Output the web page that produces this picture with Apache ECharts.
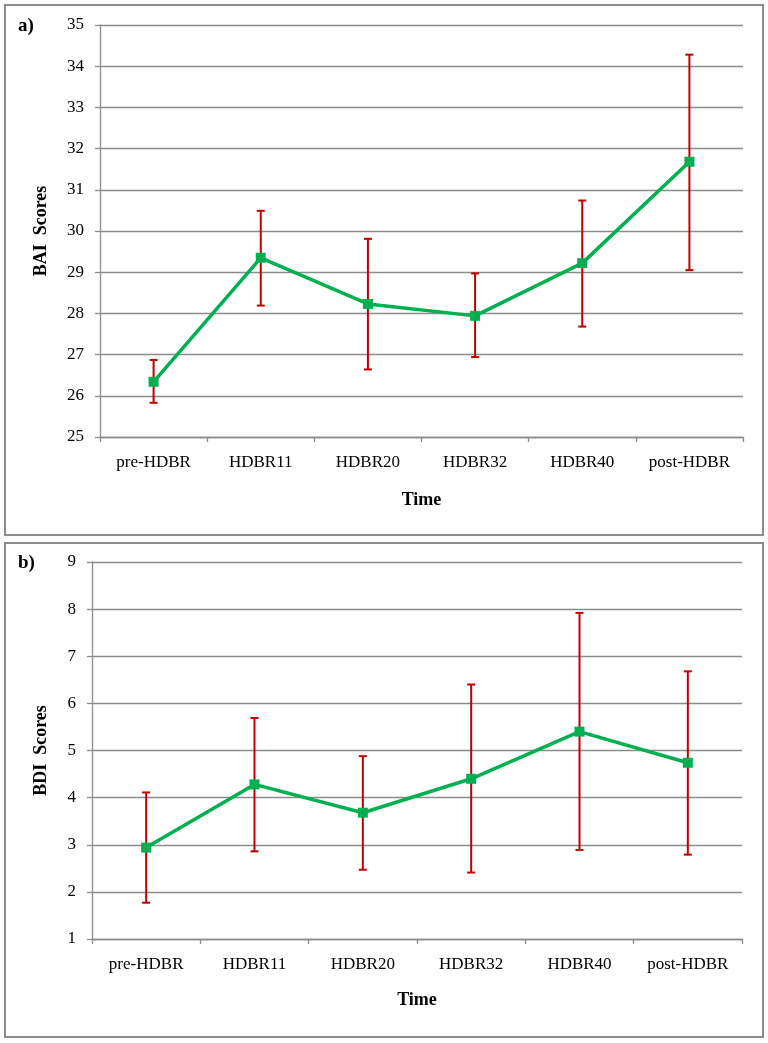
<!DOCTYPE html>
<html>
<head>
<meta charset="utf-8">
<script src="https://cdn.jsdelivr.net/npm/echarts@6/dist/echarts.min.js"></script>
<style>html,body{margin:0;padding:0;background:#fff}#c{width:768px;height:1043px}</style>
</head>
<body>
<div id="c"></div>
<script>
const categories = ['pre-HDBR', 'HDBR11', 'HDBR20', 'HDBR32', 'HDBR40', 'post-HDBR'];
const baiMean = [26.34, 29.35, 28.23, 27.94, 29.22, 31.68];
const baiLow  = [25.83, 28.19, 26.64, 26.94, 27.68, 29.05];
const baiHigh = [26.87, 30.49, 29.81, 28.97, 30.74, 34.28];
const bdiMean = [2.94, 4.28, 3.68, 4.40, 5.40, 4.74];
const bdiLow  = [1.77, 2.86, 2.47, 2.41, 2.89, 2.79];
const bdiHigh = [4.11, 5.69, 4.88, 6.40, 7.92, 6.68];

const FONT = "'Liberation Serif', 'Times New Roman', serif";
const GRAY = '#8c8c8c';
const GREEN = '#00b050';
const RED = '#c00000';

function errData(lo, hi) { return categories.map((c, i) => [i, lo[i], hi[i]]); }

function errRender(params, api) {
  const x = api.value(0);
  const p1 = api.coord([x, api.value(1)]);
  const p2 = api.coord([x, api.value(2)]);
  const w = 4;
  const st = { stroke: RED, lineWidth: 2 };
  return {
    type: 'group',
    children: [
      { type: 'line', shape: { x1: p1[0], y1: p1[1], x2: p2[0], y2: p2[1] }, style: st },
      { type: 'line', shape: { x1: p1[0] - w, y1: p1[1], x2: p1[0] + w, y2: p1[1] }, style: st },
      { type: 'line', shape: { x1: p2[0] - w, y1: p2[1], x2: p2[0] + w, y2: p2[1] }, style: st }
    ]
  };
}

function xAxisCfg(gi, gap) {
  return {
    type: 'category', gridIndex: gi, data: categories, boundaryGap: true,
    name: 'Time', nameLocation: 'middle', nameGap: gap,
    nameTextStyle: { fontFamily: FONT, fontWeight: 'bold', fontSize: 18, color: '#000' },
    axisLine: { show: true, lineStyle: { color: GRAY, width: 1.3 } },
    axisTick: { show: true, length: 5, interval: 0, lineStyle: { color: GRAY, width: 1.3 } },
    axisLabel: { fontFamily: FONT, fontSize: 17, color: '#000', margin: 17, interval: 0 },
    splitLine: { show: false }
  };
}
function yAxisCfg(gi, name, min, max, gap) {
  return {
    type: 'value', gridIndex: gi, min: min, max: max, interval: 1,
    name: name, nameLocation: 'middle', nameGap: gap, nameRotate: 90,
    nameTextStyle: { fontFamily: FONT, fontWeight: 'bold', fontSize: 18, color: '#000' },
    axisLine: { show: true, lineStyle: { color: GRAY, width: 1.3 } },
    axisTick: { show: true, length: 5, lineStyle: { color: GRAY, width: 1.3 } },
    axisLabel: { fontFamily: FONT, fontSize: 17, color: '#000', margin: 16 },
    splitLine: { show: true, lineStyle: { color: GRAY, width: 1.3 } }
  };
}

const chart = echarts.init(document.getElementById('c'), null, { renderer: 'canvas' });
chart.setOption({
  animation: false,
  backgroundColor: '#fff',
  grid: [
    { left: 100, top: 25, right: 25, height: 412 },
    { left: 92, top: 562, right: 26, height: 377 }
  ],
  xAxis: [xAxisCfg(0, 54), xAxisCfg(1, 52)],
  yAxis: [yAxisCfg(0, 'BAI  Scores', 25, 35, 50), yAxisCfg(1, 'BDI  Scores', 1, 9, 42)],
  graphic: [
    { type: 'rect', shape: { x: 5, y: 5, width: 758, height: 530 }, style: { fill: 'none', stroke: GRAY, lineWidth: 2 }, z: 0 },
    { type: 'rect', shape: { x: 5, y: 543, width: 758, height: 494 }, style: { fill: 'none', stroke: GRAY, lineWidth: 2 }, z: 0 },
    { type: 'text', left: 18, top: 17, style: { text: 'a)', font: "bold 19px 'Liberation Serif', serif", fill: '#000' } },
    { type: 'text', left: 18, top: 554, style: { text: 'b)', font: "bold 19px 'Liberation Serif', serif", fill: '#000' } }
  ],
  series: [
    { type: 'custom', xAxisIndex: 0, yAxisIndex: 0, renderItem: errRender, data: errData(baiLow, baiHigh), z: 2 },
    { type: 'line', xAxisIndex: 0, yAxisIndex: 0, data: baiMean, symbol: 'rect', symbolSize: 10,
      lineStyle: { color: GREEN, width: 3.5 }, itemStyle: { color: GREEN }, z: 3 },
    { type: 'custom', xAxisIndex: 1, yAxisIndex: 1, renderItem: errRender, data: errData(bdiLow, bdiHigh), z: 2 },
    { type: 'line', xAxisIndex: 1, yAxisIndex: 1, data: bdiMean, symbol: 'rect', symbolSize: 10,
      lineStyle: { color: GREEN, width: 3.5 }, itemStyle: { color: GREEN }, z: 3 }
  ]
});
</script>
</body>
</html>
